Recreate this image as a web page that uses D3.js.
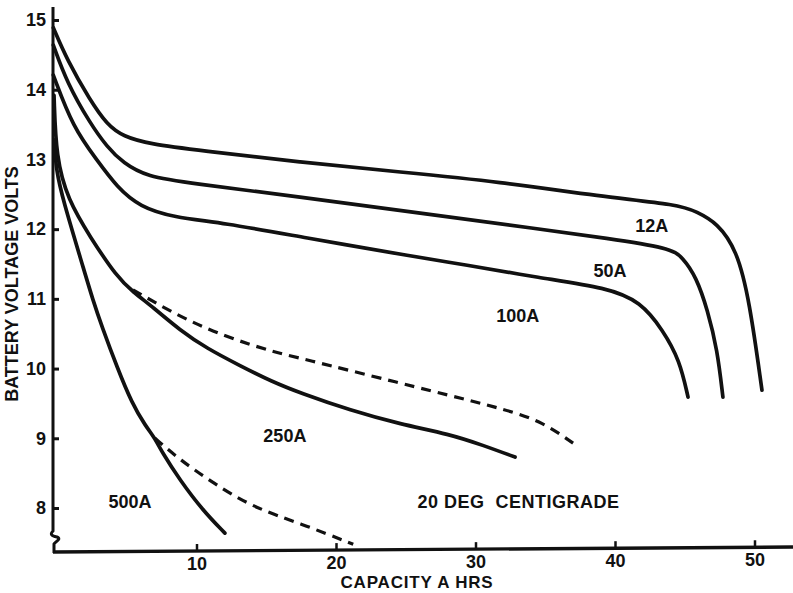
<!DOCTYPE html>
<html>
<head>
<meta charset="utf-8">
<script src="https://cdn.jsdelivr.net/npm/d3@7"></script>
<style>
  body { margin: 0; background: #fff; }
  svg text { font-family: "Liberation Sans", Arial, sans-serif; font-weight: bold; fill: #111; }
</style>
</head>
<body>
<div class="wrapper"></div>
<script>
// capacity (A h) and battery voltage
var amps12 = [[-0.3,14.89],[0.68,14.43],[2.33,13.85],[3.55,13.5],[4.7,13.33],[6.63,13.22],[10.2,13.13],
  [17.4,12.96],[24.6,12.82],[31.7,12.68],[38.9,12.47],[44.6,12.35],[45.8,12.25],[47.3,12.09],
  [48.7,11.7],[49.6,10.98],[50.5,9.69]];
var amps50 = [[-0.3,14.64],[0.68,14.1],[2.33,13.52],[3.55,13.18],[4.7,12.95],[6.42,12.75],[9.5,12.66],
  [17.4,12.46],[26.0,12.23],[34.6,12.0],[39.4,11.87],[43.9,11.73],[44.8,11.6],[45.8,11.31],
  [46.6,10.84],[47.3,10.27],[47.7,9.59]];
var amps100 = [[-0.3,14.21],[1.11,13.46],[2.83,12.99],[4.27,12.6],[5.91,12.32],[8.28,12.17],[11.9,12.09],
  [17.4,11.89],[26.0,11.59],[28.9,11.5],[34.6,11.3],[39.4,11.16],[41.8,10.96],[43.4,10.55],
  [44.6,10.12],[45.2,9.59]];
var amps250 = [[-0.25,13.92],[-0.1,13.02],[0.75,12.42],[2.33,11.89],[4.27,11.31],[5.41,11.1],[6.85,10.88],
  [8.78,10.55],[10.7,10.29],[13.1,10.04],[15.4,9.81],[17.4,9.65],[21.0,9.4],[24.6,9.2],
  [28.1,9.06],[30.5,8.9],[32.8,8.73]];
var amps500 = [[-0.25,13.28],[-0.1,12.85],[0.39,12.42],[1.83,11.46],[2.54,10.98],[3.19,10.6],[4.27,10.02],
  [5.34,9.5],[6.3,9.18],[6.99,9.0],[7.49,8.8],[8.78,8.4],[10.4,7.97],[12.0,7.64]];
// dashed branches
var dash250 = [[5.41,11.13],[8.78,10.74],[12.15,10.45],[15.45,10.24],[17.4,10.15],[24.6,9.79],
  [29.4,9.55],[31.7,9.43],[34.6,9.26],[36.96,8.93]];
var dash500 = [[6.99,9.0],[8.78,8.69],[11.15,8.36],[14.0,8.01],[17.4,7.78],[21.2,7.48]];

var xTicks = [10, 20, 30, 40, 50];
var yTicks = [8, 9, 10, 11, 12, 13, 14, 15];

// label anchors in data units
var curveNames = ["12A", "50A", "100A", "250A", "500A"];
var nameX = [42.6, 39.6, 33.0, 16.3, 5.2];
var nameV = [11.96, 11.31, 10.67, 8.95, 8.0];

var width = 793, height = 593;

var x = d3.scaleLinear().domain([0, 50]).range([57.5, 755]);
var y = d3.scaleLinear().domain([15, 8]).range([20, 508]);

var svg = d3.select(".wrapper").append("svg")
    .attr("width", width)
    .attr("height", height);

var axisX0 = 53, axisY0 = 552;

// y axis line with the little break near the bottom
svg.append("path")
    .attr("d", "M" + axisX0 + ",7 L" + axisX0 + ",531 C" + (axisX0 - 3) + ",534 " + (axisX0 - 2) + ",536 "
      + (axisX0 + 4) + ",537 C" + (axisX0 + 9) + ",539 " + (axisX0 + 2) + ",542 " + (axisX0 + 1) + ",544 L"
      + (axisX0 + 1) + "," + (axisY0 + 1))
    .attr("fill", "none")
    .attr("stroke", "#111")
    .attr("stroke-width", 3);

// x axis line
svg.append("line")
    .attr("x1", axisX0).attr("y1", axisY0)
    .attr("x2", width).attr("y2", axisY0 - 5)
    .attr("stroke", "#111")
    .attr("stroke-width", 3.4);

var yAxis = svg.append("g")
    .attr("transform", "translate(" + axisX0 + ",0)")
    .call(d3.axisLeft(y).tickValues(yTicks).tickFormat(d3.format("d"))
      .tickSizeInner(-6).tickSizeOuter(0).tickPadding(7));
yAxis.select(".domain").remove();
yAxis.selectAll("line").attr("stroke", "#111").attr("stroke-width", 3);
yAxis.selectAll("text").style("font-size", "18px");

var xAxis = svg.append("g")
    .attr("transform", "translate(0," + axisY0 + ")")
    .call(d3.axisBottom(x).tickValues(xTicks).tickSizeInner(-7).tickSizeOuter(0).tickPadding(6));
xAxis.select(".domain").remove();
// follow the slight tilt of the scanned baseline
xAxis.selectAll(".tick").attr("transform", function(d) {
    return "translate(" + x(d) + "," + (-5 * (x(d) - axisX0) / (width - axisX0)) + ")";
});
xAxis.selectAll("line").attr("stroke", "#111").attr("stroke-width", 2.5);
xAxis.selectAll("text").style("font-size", "18px");

var line = d3.line()
    .x(function(d) { return x(d[0]); })
    .y(function(d) { return y(d[1]); })
    .curve(d3.curveBasis);

var solid = [amps12, amps50, amps100, amps250, amps500];
svg.selectAll("path.curve")
    .data(solid)
  .enter().append("path")
    .attr("class", "curve")
    .attr("d", line)
    .attr("fill", "none")
    .attr("stroke", "#111")
    .attr("stroke-width", 3.7)
    .attr("stroke-linecap", "round");

svg.selectAll("path.dashed")
    .data([dash250, dash500])
  .enter().append("path")
    .attr("class", "dashed")
    .attr("d", line)
    .attr("fill", "none")
    .attr("stroke", "#111")
    .attr("stroke-width", 3.2)
    .attr("stroke-dasharray", "10,7");

svg.selectAll("text.name")
    .data(curveNames)
  .enter().append("text")
    .attr("class", "name")
    .attr("x", function(d, i) { return x(nameX[i]); })
    .attr("y", function(d, i) { return y(nameV[i]); })
    .attr("text-anchor", "middle")
    .style("font-size", "18px")
    .text(function(d) { return d; });

svg.append("text")
    .attr("x", x(25.8))
    .attr("y", y(8.0))
    .style("font-size", "18px")
    .style("letter-spacing", "0.5px")
    .text("20 DEG\u00a0 CENTIGRADE");

svg.append("text")
    .attr("x", 417)
    .attr("y", 588)
    .attr("text-anchor", "middle")
    .style("font-size", "17px")
    .style("letter-spacing", "0.8px")
    .text("CAPACITY A HRS");

svg.append("text")
    .attr("transform", "translate(18,284) rotate(-90)")
    .attr("text-anchor", "middle")
    .style("font-size", "18px")
    .text("BATTERY VOLTAGE VOLTS");
</script>
</body>
</html>
